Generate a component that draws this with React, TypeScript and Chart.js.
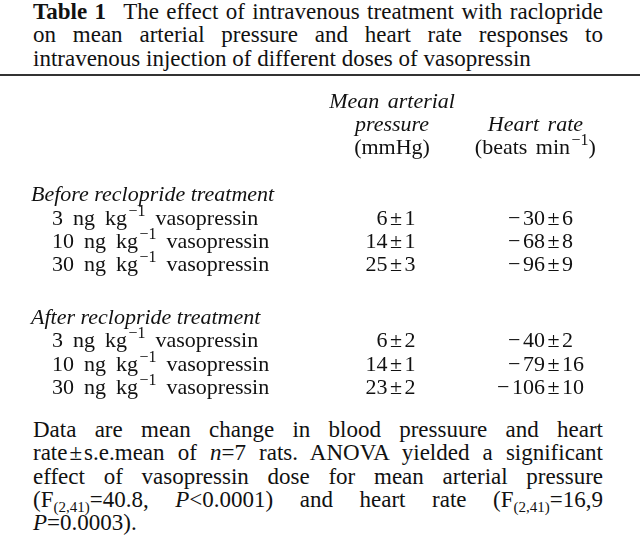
import React, { useEffect, useRef } from "react";
import { Chart, registerables } from "chart.js";

Chart.register(...registerables);

// ---------------- text & data ----------------
const titleLabel = "Table 1";
const titleLines = [
  "The effect of intravenous treatment with raclopride",
  "on mean arterial pressure and heart rate responses to",
  "intravenous injection of different doses of vasopressin",
];

// column headers, one entry per header line; ^{…} marks a superscript
const mapHeader = ["Mean arterial", "pressure", "(mmHg)"];
const mapHeaderItalic = [true, true, false];
const hrHeader = ["", "Heart rate", "(beats min^{−1})"];
const hrHeaderItalic = [false, true, false];

const groups = ["Before reclopride treatment", "After reclopride treatment"];
const doses = [3, 10, 30];
const doseUnit = "ng kg^{−1} vasopressin";

// mean ± s.e.mean, [group][dose]
const mapMean = [
  [6, 14, 25],
  [6, 14, 23],
];
const mapSem = [
  [1, 1, 3],
  [2, 1, 2],
];
const hrMean = [
  [-30, -68, -96],
  [-40, -79, -106],
];
const hrSem = [
  [6, 8, 9],
  [2, 16, 10],
];

// ---------------- layout / style ----------------
const FONT_FAMILY = '"Liberation Serif", "Times New Roman", serif';
const FS = 22; // table text
const PROSE_FS = 23; // title & footnote
const SUP_FS = 16;
const SUP_RAISE = 9;
const SUP_GAP = 1.5;
const LABEL_WORD_EXTRA = 4.5;
const HEADER_WORD_EXTRA = 3;
const PM_GAP = 2.5;
const MINUS_GAP = 2.5;
const LINE = 23.3;
const TEXT = "#111";
const CANVAS_TOP = 80;
const CANVAS_H = 320;
const CANVAS_W = 640;
const PAD_LEFT = 31;
const INDENT = 21;
const ROW0_BASELINE = 27.5; // canvas px of header line 0 baseline
const COL_PX = 157.5; // px per column unit
const COL1_PX = 396; // page px of first value column (± sign)
const HEADER_ANCHOR = [0.975, 1.885];
const groupRowStart = [4.03, 9.3];

const yMin = -ROW0_BASELINE / LINE;
const yMax = yMin + CANVAS_H / LINE;
const xMin = 1 - (COL1_PX - PAD_LEFT) / COL_PX;
const xMax = xMin + (CANVAS_W - PAD_LEFT) / COL_PX;

type Part = { t: string; sup?: boolean; italic?: boolean };

function parse(s: string, italic: boolean): Part[] {
  const out: Part[] = [];
  const re = /\^\{([^}]*)\}/g;
  let last = 0;
  let m: RegExpExecArray | null;
  while ((m = re.exec(s))) {
    if (m.index > last) out.push({ t: s.slice(last, m.index), italic });
    out.push({ t: m[1], sup: true, italic: false });
    last = m.index + m[0].length;
  }
  if (last < s.length) out.push({ t: s.slice(last), italic });
  return out;
}

function fontFor(p: Part) {
  return `${p.italic ? "italic " : ""}${p.sup ? SUP_FS : FS}px ${FONT_FAMILY}`;
}

type Piece = { t: string; font: string; w: number; dy: number; gapBefore: number };

function layoutRich(ctx: CanvasRenderingContext2D, parts: Part[], wordExtra: number): Piece[] {
  const pieces: Piece[] = [];
  parts.forEach((p) => {
    const font = fontFor(p);
    ctx.font = font;
    const tokens = p.t.split(/( )/).filter((s) => s.length > 0);
    tokens.forEach((tk, k) => {
      const w = ctx.measureText(tk).width + (tk === " " ? wordExtra : 0);
      pieces.push({ t: tk, font, w, dy: p.sup ? -SUP_RAISE : 0, gapBefore: p.sup && k === 0 ? SUP_GAP : 0 });
    });
  });
  return pieces;
}

function drawRich(
  ctx: CanvasRenderingContext2D,
  parts: Part[],
  x: number,
  y: number,
  align: "left" | "center" | "right",
  wordExtra = 0
) {
  const pieces = layoutRich(ctx, parts, wordExtra);
  const total = pieces.reduce((a, p) => a + p.w + p.gapBefore, 0);
  let cx = align === "left" ? x : align === "center" ? x - total / 2 : x - total;
  ctx.textAlign = "left";
  pieces.forEach((p) => {
    cx += p.gapBefore;
    if (p.t !== " ") {
      ctx.font = p.font;
      ctx.fillText(p.t, cx, y + p.dy);
    }
    cx += p.w;
  });
}

function drawPm(ctx: CanvasRenderingContext2D, mean: number, sem: number, x: number, y: number) {
  ctx.font = `${FS}px ${FONT_FAMILY}`;
  const pmW = ctx.measureText("±").width;
  ctx.textAlign = "center";
  ctx.fillText("±", x, y);
  ctx.textAlign = "right";
  const meanRight = x - pmW / 2 - PM_GAP;
  const absTxt = String(Math.abs(mean));
  ctx.fillText(absTxt, meanRight, y);
  if (mean < 0) {
    const w = ctx.measureText(absTxt).width;
    ctx.fillText("−", meanRight - w - MINUS_GAP, y);
  }
  ctx.textAlign = "left";
  ctx.fillText(String(sem), x + pmW / 2 + PM_GAP, y);
}

const tablePlugin = {
  id: "tableText",
  afterDatasetsDraw(chart: any) {
    const ctx: CanvasRenderingContext2D = chart.ctx;
    const xs = chart.scales.x;
    const ys = chart.scales.y;
    const left = chart.chartArea.left;
    ctx.save();
    ctx.fillStyle = TEXT;
    ctx.textBaseline = "alphabetic";
    [mapHeader, hrHeader].forEach((lines, c) => {
      const it = c === 0 ? mapHeaderItalic : hrHeaderItalic;
      lines.forEach((ln, r) => {
        if (!ln) return;
        drawRich(
          ctx,
          parse(ln, it[r]),
          xs.getPixelForValue(HEADER_ANCHOR[c]),
          ys.getPixelForValue(r),
          "center",
          HEADER_WORD_EXTRA
        );
      });
    });
    groups.forEach((g, gi) => {
      drawRich(ctx, parse(g, true), left, ys.getPixelForValue(groupRowStart[gi]), "left");
      doses.forEach((d, di) => {
        drawRich(
          ctx,
          parse(`${d} ${doseUnit}`, false),
          left + INDENT,
          ys.getPixelForValue(groupRowStart[gi] + 1 + di),
          "left",
          LABEL_WORD_EXTRA
        );
      });
    });
    chart.data.datasets.forEach((ds: any, i: number) => {
      const meta = chart.getDatasetMeta(i);
      meta.data.forEach((el: any, j: number) => {
        const p = ds.data[j];
        drawPm(ctx, p.mean, p.sem, el.x, el.y);
      });
    });
    ctx.restore();
  },
};

function buildPoints(col: number, means: number[][], sems: number[][]) {
  const pts: any[] = [];
  groups.forEach((_, gi) => {
    doses.forEach((__, di) => {
      pts.push({ x: col, y: groupRowStart[gi] + 1 + di, mean: means[gi][di], sem: sems[gi][di] });
    });
  });
  return pts;
}

function TableChart() {
  const ref = useRef<HTMLCanvasElement | null>(null);
  useEffect(() => {
    if (!ref.current) return;
    const chart = new Chart(ref.current, {
      type: "scatter",
      data: {
        datasets: [
          { label: "Mean arterial pressure", data: buildPoints(1, mapMean, mapSem), pointRadius: 0, pointHoverRadius: 0 },
          { label: "Heart rate", data: buildPoints(2, hrMean, hrSem), pointRadius: 0, pointHoverRadius: 0 },
        ],
      },
      options: {
        animation: false,
        responsive: false,
        maintainAspectRatio: false,
        devicePixelRatio: 1,
        events: [],
        layout: { padding: { left: PAD_LEFT, right: 0, top: 0, bottom: 0 } },
        plugins: { legend: { display: false }, tooltip: { enabled: false } },
        scales: {
          x: { type: "linear", display: false, min: xMin, max: xMax },
          y: { type: "linear", display: false, reverse: true, min: yMin, max: yMax },
        },
      },
      plugins: [tablePlugin],
    } as any);
    return () => chart.destroy();
  }, []);
  return (
    <canvas
      ref={ref}
      width={CANVAS_W}
      height={CANVAS_H}
      style={{ position: "absolute", left: 0, top: CANVAS_TOP, width: CANVAS_W, height: CANVAS_H }}
    />
  );
}

const lineStyle: React.CSSProperties = {
  textAlign: "justify",
  textAlignLast: "justify" as any,
  height: LINE,
};
const lastLineStyle: React.CSSProperties = { height: LINE };
const sub: React.CSSProperties = { fontSize: 15, position: "relative", top: 5 };
const pm: React.CSSProperties = { margin: "0 2px" };

export default function App() {
  return (
    <div
      style={{
        position: "absolute",
        left: 0,
        top: 0,
        width: 640,
        height: 538,
        background: "#fff",
        color: TEXT,
        fontFamily: FONT_FAMILY,
        fontSize: PROSE_FS,
        lineHeight: `${LINE}px`,
        overflow: "hidden",
      }}
    >
      <div style={{ position: "absolute", left: 33, top: 0, width: 570 }}>
        <div style={lineStyle}>
          <b style={{ marginRight: 10 }}>{titleLabel}</b> {titleLines[0]}
        </div>
        <div style={lineStyle}>{titleLines[1]}</div>
        <div style={lastLineStyle}>{titleLines[2]}</div>
      </div>
      <div style={{ position: "absolute", left: 0, top: 74, width: 640, height: 2, background: "#333" }} />
      <TableChart />
      <div style={{ position: "absolute", left: 33, top: 418, width: 570 }}>
        <div style={lineStyle}>Data are mean change in blood pressuure and heart</div>
        <div style={lineStyle}>
          rate<span style={pm}>±</span>s.e.mean of <i>n</i>=7 rats. ANOVA yielded a significant
        </div>
        <div style={lineStyle}>effect of vasopressin dose for mean arterial pressure</div>
        <div style={lineStyle}>
          (F<span style={sub}>(2,41)</span>=40.8, <i>P</i>&lt;0.0001) and heart rate (F<span style={sub}>(2,41)</span>=16,9
        </div>
        <div style={lastLineStyle}>
          <i>P</i>=0.0003).
        </div>
      </div>
    </div>
  );
}
